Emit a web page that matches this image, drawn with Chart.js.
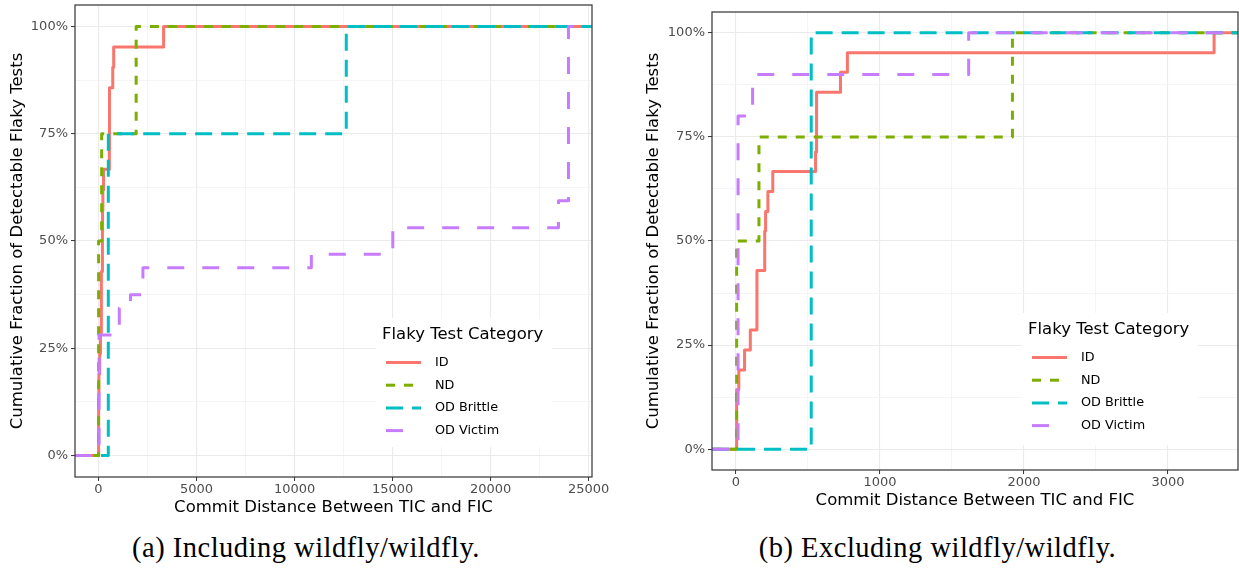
<!DOCTYPE html>
<html>
<head>
<meta charset="utf-8">
<script src="https://cdn.jsdelivr.net/npm/chart.js@4.4.0/dist/chart.umd.min.js"></script>
<style>
  html, body { margin: 0; padding: 0; background: #fff; }
  body { width: 1239px; height: 569px; position: relative; overflow: hidden; }
  .box { position: absolute; top: 0; height: 530px; }
  #boxA { left: 0; width: 612px; }
  #boxB { left: 636px; width: 603px; }
  .cap { position: absolute; top: 532px; font-family: "Liberation Serif", "DejaVu Serif", serif;
         font-size: 28.5px; letter-spacing: 0.5px; color: #000; text-align: center; white-space: nowrap; }
</style>
</head>
<body>
<div class="box" id="boxA"><canvas id="chartA"></canvas></div>
<div class="box" id="boxB"><canvas id="chartB"></canvas></div>
<div class="cap" style="left:0;width:612px">(a) Including wildfly/wildfly.</div>
<div class="cap" style="left:636px;width:603px">(b) Excluding wildfly/wildfly.</div>
<script>
// categories and their look
const categories = ['ID', 'ND', 'OD Brittle', 'OD Victim'];
const colors = ['#F8766D', '#7CAE00', '#00BFC4', '#C77CFF'];
const dashes = [[], [9, 9], [17, 9], [17, 18]];

// ECDF steps: commit distance where a step happens, and cumulative fraction after it
const idX = [5, 20, 60, 100, 146, 200, 206, 222, 256, 553, 560, 726, 774, 3320];
const idY = [0.143, 0.190, 0.238, 0.286, 0.429, 0.524, 0.571, 0.619, 0.667, 0.714, 0.857, 0.905, 0.952, 1];
const ndX = [5, 160, 1920];
const ndY = [0.5, 0.75, 1];

// (a) including wildfly
const brittleAX = [500, 12637];
const brittleAY = [0.75, 1];
const victimAX = [30, 1060, 1630, 2266, 10855, 15010, 23460, 23970];
const victimAY = [0.281, 0.344, 0.375, 0.4375, 0.469, 0.531, 0.594, 1];

// (b) excluding wildfly
const brittleBX = [523];
const brittleBY = [1];
const victimBX = [15, 116, 1616];
const victimBY = [0.8, 0.9, 1];

// axes
const yTicks = [0, 0.25, 0.5, 0.75, 1];
const xTicksA = [0, 5000, 10000, 15000, 20000, 25000];
const xTicksB = [0, 1000, 2000, 3000];
const xRangeA = [-1199, 25170];
const xRangeB = [-166, 3486];

const FONT = 'DejaVu Sans';

function steps(xs, ys, range) {
    const pts = [{ x: range[0], y: 0 }];
    xs.forEach((x, i) => pts.push({ x: x, y: ys[i] }));
    pts.push({ x: range[1], y: 1 });
    return pts;
}

// majors plus the minor lines halfway between them
function withMinors(majors, lo, hi) {
    const step = majors[1] - majors[0];
    const all = [];
    for (let v = majors[0] - step / 2; v <= majors[majors.length - 1] + step / 2; v += step / 2) {
        if (v >= lo && v <= hi) all.push(v);
    }
    return all;
}

const panelBorder = {
    id: 'panelBorder',
    afterDatasetsDraw(chart) {
        const a = chart.chartArea, ctx = chart.ctx;
        ctx.save();
        ctx.strokeStyle = '#333333';
        ctx.lineWidth = 1.2;
        ctx.strokeRect(a.left, a.top, a.right - a.left, a.bottom - a.top);
        ctx.restore();
    }
};

const flakyLegend = {
    id: 'flakyLegend',
    afterDraw(chart, args, opts) {
        const ctx = chart.ctx;
        const x = opts.x, y = opts.y;
        ctx.save();
        ctx.fillStyle = '#ffffff';
        ctx.fillRect(x, y, 176, opts.h);
        ctx.fillStyle = '#000';
        ctx.textBaseline = 'middle';
        ctx.textAlign = 'left';
        ctx.font = '16.5px "' + FONT + '"';
        ctx.fillText('Flaky Test Category', x + 6, y + 17);
        ctx.font = '12.8px "' + FONT + '"';
        categories.forEach((c, i) => {
            const ry = y + 44.5 + 22.7 * i;
            ctx.strokeStyle = colors[i];
            ctx.lineWidth = 3;
            ctx.setLineDash(dashes[i]);
            ctx.beginPath();
            ctx.moveTo(x + 10, ry);
            ctx.lineTo(x + 45, ry);
            ctx.stroke();
            ctx.setLineDash([]);
            ctx.fillStyle = '#000';
            ctx.fillText(c, x + 59, ry);
        });
        ctx.restore();
    }
};

function makeChart(canvasId, series, xRange, xTicks, yWidth, padding, legendPos) {
    const xAll = withMinors(xTicks, xRange[0], xRange[1]);
    const yAll = withMinors(yTicks, -0.05, 1.05);
    const isMajor = (list, v) => list.some(m => Math.abs(m - v) < 1e-9);

    new Chart(document.getElementById(canvasId), {
        type: 'line',
        data: {
            datasets: series.map((pts, i) => ({
                label: categories[i],
                data: pts,
                borderColor: colors[i],
                borderWidth: 3,
                borderDash: dashes[i],
                borderJoinStyle: 'round',
                stepped: true,
                pointRadius: 0,
                fill: false,
                order: 4 - i
            }))
        },
        options: {
            responsive: true,
            maintainAspectRatio: false,
            animation: false,
            devicePixelRatio: 1,
            layout: { padding: padding },
            plugins: {
                legend: { display: false },
                tooltip: { enabled: false },
                flakyLegend: legendPos
            },
            scales: {
                x: {
                    type: 'linear',
                    min: xRange[0],
                    max: xRange[1],
                    afterBuildTicks: s => { s.ticks = xAll.map(v => ({ value: v })); },
                    afterFit: s => { s.height = 41; s.paddingLeft = 0; s.paddingRight = 0; },
                    border: { display: false },
                    grid: {
                        color: c => isMajor(xTicks, c.tick.value) ? '#EBEBEB' : '#F2F2F2',
                        lineWidth: c => isMajor(xTicks, c.tick.value) ? 1.1 : 0.8,
                        tickColor: c => isMajor(xTicks, c.tick.value) ? '#333333' : 'rgba(0,0,0,0)',
                        tickLength: 4,
                        tickWidth: 1
                    },
                    ticks: {
                        autoSkip: false,
                        maxRotation: 0,
                        padding: 1,
                        color: '#4D4D4D',
                        font: { family: FONT, size: 13 },
                        callback: v => isMajor(xTicks, v) ? String(v) : ''
                    },
                    title: {
                        display: true,
                        text: 'Commit Distance Between TIC and FIC',
                        color: '#000',
                        padding: { top: 0, bottom: 0 },
                        font: { family: FONT, size: 16.5 }
                    }
                },
                y: {
                    type: 'linear',
                    min: -0.05,
                    max: 1.05,
                    afterBuildTicks: s => { s.ticks = yAll.map(v => ({ value: v })); },
                    afterFit: s => { s.width = yWidth; s.paddingTop = 0; s.paddingBottom = 0; },
                    border: { display: false },
                    grid: {
                        color: c => isMajor(yTicks, c.tick.value) ? '#EBEBEB' : '#F2F2F2',
                        lineWidth: c => isMajor(yTicks, c.tick.value) ? 1.1 : 0.8,
                        tickColor: c => isMajor(yTicks, c.tick.value) ? '#333333' : 'rgba(0,0,0,0)',
                        tickLength: 4,
                        tickWidth: 1
                    },
                    ticks: {
                        autoSkip: false,
                        padding: 3,
                        color: '#4D4D4D',
                        font: { family: FONT, size: 13 },
                        callback: v => isMajor(yTicks, v) ? Math.round(v * 100) + '%' : ''
                    },
                    title: {
                        display: true,
                        text: 'Cumulative Fraction of Detectable Flaky Tests',
                        color: '#000',
                        padding: { top: 8, bottom: 0 },
                        font: { family: FONT, size: 16.5 }
                    }
                }
            }
        },
        plugins: [panelBorder, flakyLegend]
    });
}

makeChart('chartA', [
    steps(idX, idY, xRangeA),
    steps(ndX, ndY, xRangeA),
    steps(brittleAX, brittleAY, xRangeA),
    steps(victimAX, victimAY, xRangeA)
], xRangeA, xTicksA, 75, { left: 0, top: 5, right: 20, bottom: 12 }, { x: 376, y: 318, h: 129 });

makeChart('chartB', [
    steps(idX, idY, xRangeB),
    steps(ndX, ndY, xRangeB),
    steps(brittleBX, brittleBY, xRangeB),
    steps(victimBX, victimBY, xRangeB)
], xRangeB, xTicksB, 76, { left: 0, top: 12, right: 1, bottom: 19 }, { x: 386, y: 313, h: 132 });
</script>
</body>
</html>
